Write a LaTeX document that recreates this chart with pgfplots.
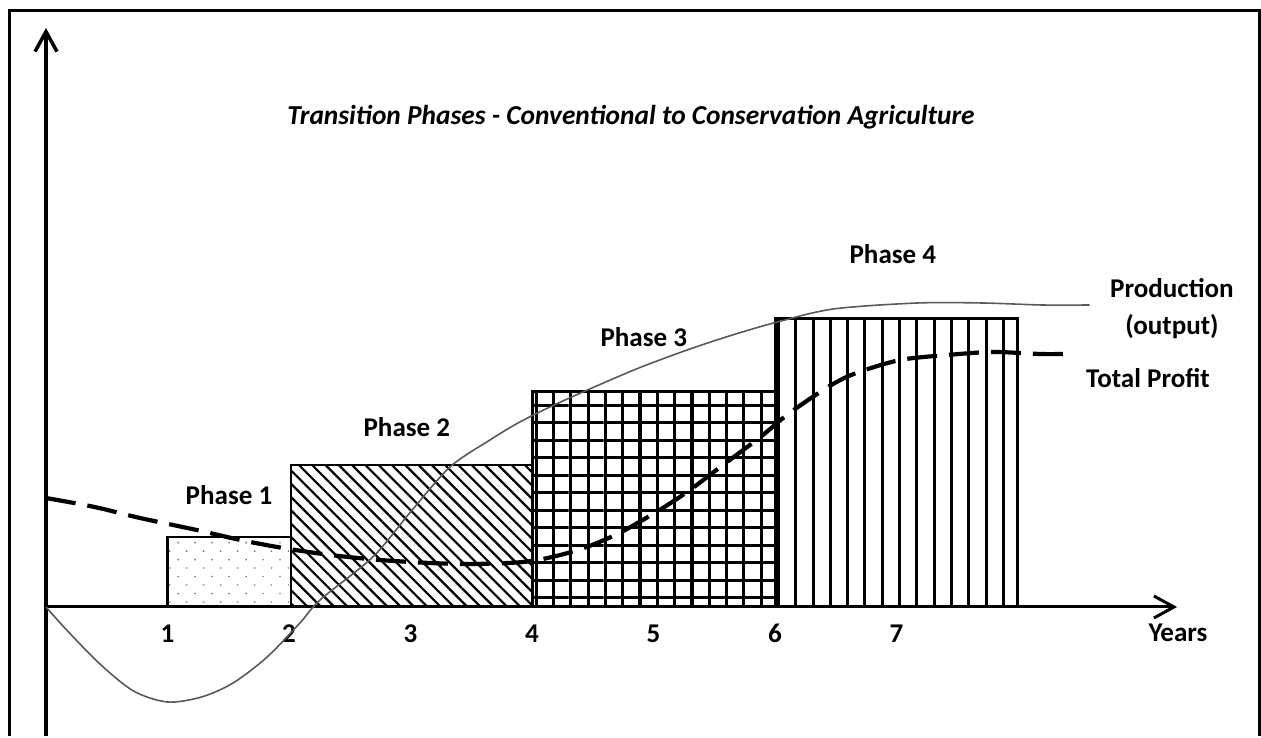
\documentclass[border=0pt]{standalone}
\usepackage{pgfplots}
\pgfplotsset{compat=1.18}
\usetikzlibrary{patterns.meta,arrows.meta}
\usepackage{fontspec}
\setmainfont{Carlito}
\newcommand{\lab}{\fontsize{7.7}{9}\selectfont\bfseries}
\begin{document}
\begin{tikzpicture}
\begin{axis}[
  scale only axis, width=126.1mm, height=73.6mm,
  xmin=-0.3786, xmax=10.0, ymin=-129, ymax=607,
  axis lines=middle,
  axis line style={draw=none,-},
  ytick=\empty,
  xtick={1,2,3,4,5,6,7},
  xticklabels={1,2,3,4,5,6,7},
  major tick length=0pt,
  xticklabel style={font=\lab, anchor=base, yshift=-3.6mm},
  clip=false,
]
\path (rel axis cs:0,0) rectangle (rel axis cs:1,1);
% Phase 1
\addplot[draw=black, line width=0.25mm, pattern={Dots[distance=1.2mm, radius=0.1mm, angle=45]}, pattern color=black!55]
  coordinates {(1,0) (1,70) (2.016,70) (2.016,0)} -- cycle;
% Phase 2
\addplot[draw=black, line width=0.25mm, pattern={Lines[angle=-45, distance=0.94mm, line width=0.22mm]}]
  coordinates {(2.016,0) (2.016,142) (4.008,142) (4.008,0)} -- cycle;
% Phase 3
\addplot[draw=none, pattern={Lines[angle=0, distance=1.75mm, line width=0.32mm]}]
  coordinates {(4.008,0) (4.008,215) (6.008,215) (6.008,0)} -- cycle;
\addplot[draw=black, line width=0.3mm, pattern={Lines[angle=90, distance=1.73mm, line width=0.32mm]}]
  coordinates {(4.008,0) (4.008,215) (6.008,215) (6.008,0)} -- cycle;
% Phase 4
\addplot[draw=black, line width=0.3mm, pattern={Lines[angle=90, distance=1.73mm, line width=0.3mm]}]
  coordinates {(6.008,0) (6.008,288) (8.0,288) (8.0,0)} -- cycle;
% axes
\draw[line width=0.35mm, -{Straight Barb[length=2mm,width=2.2mm]}] (axis cs:0,-129) -- (axis cs:0,579);
\draw[line width=0.3mm, -{Straight Barb[length=2mm,width=2.2mm]}] (axis cs:0,0) -- (axis cs:9.309,0);
% Production (output)
\addplot[smooth, draw=black!65, line width=0.16mm] coordinates {
 (0,0) (0.17,-23) (0.444,-57) (0.72,-84) (1.0,-95) (1.28,-90) (1.54,-76) (1.82,-50) (2.09,-16) (2.255,7)
 (2.69,50) (3.0,95) (3.325,140) (3.654,167) (3.9,185) (4.2,203) (4.55,222) (4.9,240) (5.30,258)
 (5.65,272) (6.02,285) (6.48,298) (7.17,304) (7.71,304) (8.2,302) (8.59,302)};
% Total Profit
\addplot[smooth, draw=black, line width=0.42mm, dash pattern=on 3mm off 1.2mm] coordinates {
 (0,109) (0.4,100) (0.774,89) (1.24,77) (1.6,67) (1.95,59) (2.34,52) (2.75,47) (3.16,44) (3.51,43)
 (3.93,45) (4.2,51) (4.45,60) (4.72,74) (5.05,97) (5.3,117) (5.55,140) (5.88,170) (6.12,194)
 (6.45,221) (6.67,234) (7.03,247) (7.42,252) (7.79,255) (8.18,253) (8.37,253)};
% frame
\draw[line width=0.3mm] (axis cs:-0.2988,-129) -- (axis cs:-0.2988,596.5) -- (axis cs:9.988,596.5) -- (axis cs:9.988,-129);
% texts
\node[anchor=base, font=\fontsize{7.8}{9}\selectfont\bfseries\itshape] at (axis cs:4.815,482) {Transition Phases - Conventional to Conservation Agriculture};
\node[anchor=base, font=\lab] at (axis cs:1.506,102) {Phase 1};
\node[anchor=base, font=\lab] at (axis cs:2.97,170) {Phase 2};
\node[anchor=base, font=\lab] at (axis cs:4.92,260) {Phase 3};
\node[anchor=base, font=\lab] at (axis cs:6.97,343) {Phase 4};
\node[anchor=base, font=\lab] at (axis cs:9.267,309) {Production};
\node[anchor=base, font=\lab] at (axis cs:9.267,272) {(output)};
\node[anchor=base, font=\lab] at (axis cs:9.07,219) {Total Profit};
\node[anchor=base, font=\lab] at (axis cs:9.317,-35) {Years};
\end{axis}
\end{tikzpicture}
\end{document}
